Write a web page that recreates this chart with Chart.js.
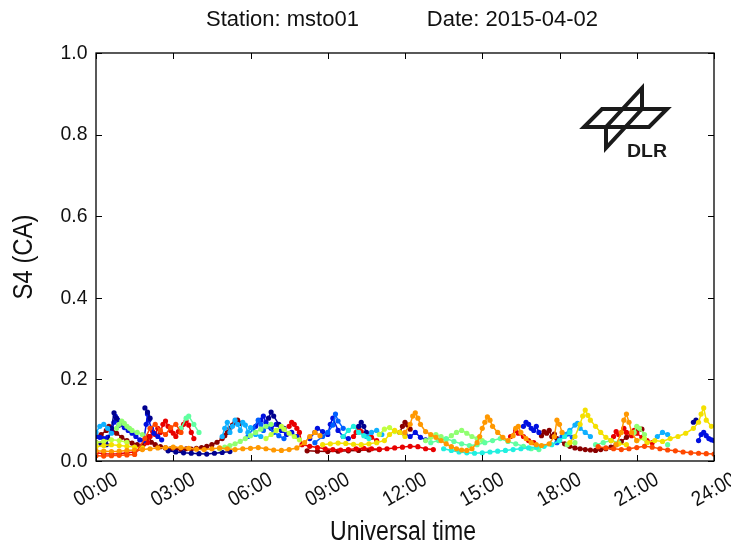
<!DOCTYPE html>
<html>
<head>
<meta charset="utf-8">
<script src="https://cdn.jsdelivr.net/npm/chart.js@4.4.1/dist/chart.umd.min.js"></script>
<style>
  html, body { margin: 0; padding: 0; background: #fff; }
  #wrap { width: 731px; height: 547px; }
</style>
</head>
<body>
<div id="wrap"><canvas id="s4-chart-canvas" width="731" height="547"></canvas></div>
<script>
// axis ticks
const xTickHours = [0, 3, 6, 9, 12, 15, 18, 21, 24];
const xTickLabels = ['00:00', '03:00', '06:00', '09:00', '12:00', '15:00', '18:00', '21:00', '24:00'];
const yTickValues = [0, 0.2, 0.4, 0.6, 0.8, 1.0];
const yTickLabels = ['0.0', '0.2', '0.4', '0.6', '0.8', '1.0'];

// S4 per satellite pass, [hour, S4]
const satDarkBlue = [[0.0,0.045],[0.2,0.042],[0.4,0.040],[0.6,0.080],[0.7,0.118],[0.8,0.105],[0.9,0.088],
  [1.9,0.130],[2.0,0.120],[2.1,0.105],[2.8,0.025],[3.1,0.022],[3.4,0.020],[3.7,0.019],[4.0,0.018],[4.3,0.017],
  [4.6,0.019],[4.9,0.021],[5.2,0.023],[6.7,0.105],[6.8,0.120],[6.9,0.110],[7.1,0.090],[7.3,0.080],
  [10.2,0.085],[10.3,0.095],[10.4,0.085],[10.5,0.070],[23.2,0.095],[23.3,0.100]];
const satBlue = [[0.0,0.060],[0.15,0.058],[0.3,0.055],[0.45,0.058],[0.6,0.070],[0.7,0.095],[0.75,0.110],[0.85,0.100],
  [0.95,0.090],[1.1,0.082],[1.25,0.075],[1.4,0.068],[1.55,0.060],[1.7,0.052],[1.85,0.050],[1.95,0.090],[2.0,0.115],
  [2.05,0.100],[2.15,0.080],[2.25,0.068],[2.4,0.060],[2.55,0.052],[6.2,0.085],[6.4,0.100],[6.5,0.110],[6.6,0.095],
  [6.8,0.080],[7.0,0.090],[7.2,0.075],[7.4,0.065],[7.6,0.070],[7.8,0.060],[8.3,0.055],[8.5,0.070],[8.6,0.080],
  [8.8,0.072],[9.0,0.065],[9.1,0.090],[9.2,0.105],[9.4,0.075],[9.6,0.060],[9.8,0.055],[12.0,0.065],[12.2,0.060],
  [12.4,0.070],[12.6,0.058],[12.8,0.052],[16.6,0.085],[16.7,0.095],[16.8,0.090],[16.9,0.080],[17.0,0.075],
  [17.1,0.085],[17.2,0.070],[23.4,0.050],[23.5,0.065],[23.6,0.070],[23.7,0.062],[23.8,0.055],[23.9,0.052],[24.0,0.050]];
const satMidBlue = [[5.9,0.060],[6.1,0.080],[6.3,0.100],[6.4,0.090],[6.5,0.075],[6.7,0.085],[6.9,0.070],[7.1,0.062],
  [7.3,0.055],[8.5,0.045],[8.8,0.060],[9.0,0.070],[9.2,0.088],[9.3,0.115],[9.4,0.098],[9.6,0.080],
  [17.9,0.045],[18.0,0.052],[18.1,0.060],[18.3,0.066],[18.5,0.058]];
const satSky = [[0.0,0.070],[0.15,0.085],[0.3,0.090],[0.45,0.080],[0.6,0.068],[4.9,0.060],[5.0,0.080],[5.1,0.095],
  [5.2,0.070],[5.3,0.085],[5.4,0.100],[5.5,0.090],[5.6,0.075],[5.7,0.095],[5.8,0.088],[5.9,0.070],[6.0,0.082],
  [6.2,0.065],[6.4,0.060],[10.5,0.060],[10.7,0.070],[10.9,0.075],[11.1,0.065],[18.2,0.065],[18.4,0.075],
  [18.6,0.088],[18.7,0.092],[18.8,0.080],[19.0,0.070],[19.2,0.060],[21.8,0.060],[22.0,0.070],[22.2,0.065]];
const satCyan = [[9.6,0.060],[9.8,0.075],[10.0,0.085],[10.2,0.070],[10.4,0.062],[10.6,0.055],[13.5,0.030],[13.8,0.026],
  [14.1,0.022],[14.4,0.020],[14.7,0.019],[15.0,0.020],[15.3,0.022],[15.6,0.024],[15.9,0.026],[16.2,0.028],
  [16.5,0.030],[16.8,0.032],[17.1,0.034],[17.4,0.036],[17.7,0.040],[18.0,0.050],[18.2,0.060],[18.4,0.070]];
const satAqua = [[3.3,0.080],[3.5,0.105],[3.6,0.110],[3.8,0.090],[4.0,0.070],[13.0,0.045],[13.3,0.050],[13.6,0.055],
  [13.9,0.048],[14.2,0.042],[14.5,0.038],[14.8,0.040],[15.1,0.045],[15.4,0.050],[15.7,0.055],[16.0,0.048],
  [16.3,0.042],[16.6,0.036],[16.9,0.030],[17.2,0.028],[19.4,0.040],[19.7,0.045],[20.0,0.050],[20.3,0.045],[22.2,0.040]];
const satGreen = [[0.8,0.080],[0.9,0.090],[1.0,0.098],[1.1,0.092],[1.2,0.085],[1.3,0.080],[1.4,0.075],[1.6,0.070],
  [1.8,0.065],[4.8,0.030],[5.0,0.034],[5.2,0.038],[5.4,0.042],[5.6,0.048],[5.8,0.055],[6.0,0.062],[6.2,0.070],
  [6.4,0.078],[6.6,0.085],[6.8,0.090],[12.8,0.050],[13.0,0.058],[13.2,0.065],[13.4,0.060],[13.6,0.052],
  [13.8,0.062],[14.0,0.070],[14.2,0.075],[14.4,0.068],[14.6,0.060],[14.8,0.055],[15.0,0.050],[18.3,0.040],
  [18.6,0.045],[20.9,0.070],[21.0,0.085],[21.1,0.080],[21.3,0.065]];
const satLime = [[0.0,0.045],[0.3,0.048],[0.6,0.052],[0.9,0.050],[1.2,0.046],[6.6,0.055],[6.8,0.065],[7.0,0.075],
  [7.2,0.085],[7.3,0.078],[7.5,0.068],[7.7,0.060],[7.9,0.052],[11.0,0.065],[11.2,0.078],[11.4,0.082],[11.6,0.072],
  [21.0,0.050],[21.3,0.055]];
const satYellow = [[0.0,0.035],[0.3,0.038],[0.6,0.040],[0.9,0.038],[1.2,0.036],[1.5,0.034],[1.8,0.032],
  [8.8,0.040],[9.1,0.042],[9.4,0.044],[9.7,0.043],[10.0,0.041],[10.3,0.040],[10.6,0.042],[10.9,0.045],[11.2,0.050],
  [11.4,0.065],[11.6,0.075],[11.8,0.070],[12.0,0.060],[18.4,0.045],[18.6,0.060],[18.8,0.090],[18.9,0.110],
  [19.0,0.125],[19.1,0.112],[19.2,0.100],[19.4,0.085],[19.6,0.070],[19.8,0.058],[20.0,0.050],[20.3,0.042],
  [20.6,0.040],[21.4,0.045],[21.7,0.050],[22.0,0.048],[22.3,0.055],[22.6,0.060],[22.9,0.068],[23.2,0.080],
  [23.4,0.095],[23.5,0.115],[23.6,0.130],[23.7,0.100],[23.9,0.085]];
const satOrange = [[0.0,0.025],[0.3,0.024],[0.6,0.023],[0.9,0.024],[1.2,0.026],[1.5,0.027],[1.8,0.028],[2.1,0.030],
  [2.4,0.032],[2.7,0.033],[3.0,0.034],[3.3,0.033],[3.6,0.031],[3.9,0.029],[4.2,0.028],[4.5,0.030],[4.8,0.032],
  [5.1,0.030],[5.4,0.028],[5.7,0.030],[6.0,0.031],[6.3,0.033],[6.6,0.030],[6.9,0.027],[7.2,0.026],[7.5,0.028],
  [7.8,0.032],[8.1,0.045],[8.3,0.060],[8.5,0.070],[8.7,0.062],[12.0,0.070],[12.2,0.090],[12.3,0.110],[12.4,0.118],
  [12.5,0.105],[12.6,0.090],[12.8,0.072],[13.0,0.065],[13.2,0.058],[13.4,0.050],[13.6,0.042],[13.8,0.035],
  [14.0,0.030],[14.2,0.027],[14.4,0.026],[14.6,0.030],[14.8,0.045],[14.9,0.060],[15.0,0.080],[15.1,0.095],
  [15.2,0.108],[15.3,0.100],[15.4,0.085],[15.6,0.070],[15.8,0.058],[16.0,0.050],[16.2,0.062],[16.3,0.080],
  [16.4,0.085],[16.5,0.070],[16.7,0.055],[16.9,0.045],[17.1,0.040],[17.3,0.038],[17.6,0.042],[17.8,0.060],
  [17.9,0.100],[18.0,0.090],[18.1,0.070],[20.2,0.040],[20.4,0.070],[20.5,0.100],[20.6,0.115],[20.7,0.095],
  [20.8,0.070],[21.0,0.050]];
const satOrangeRed = [[0.0,0.013],[0.3,0.012],[0.6,0.013],[0.9,0.014],[1.2,0.015],[1.5,0.016],[1.9,0.055],[2.1,0.080],
  [2.3,0.090],[2.5,0.075],[2.7,0.065],[2.9,0.082],[3.1,0.090],[3.3,0.070],[19.5,0.035],[19.8,0.032],[20.1,0.030],
  [20.4,0.028],[20.7,0.030],[21.0,0.033],[21.3,0.036],[21.6,0.034],[21.9,0.030],[22.2,0.027],[22.5,0.025],
  [22.8,0.022],[23.1,0.020],[23.4,0.019],[23.7,0.018],[24.0,0.017]];
const satRed = [[0.0,0.020],[0.3,0.018],[0.6,0.017],[0.9,0.018],[1.2,0.020],[1.5,0.022],[1.8,0.030],[2.0,0.045],
  [2.1,0.060],[2.2,0.072],[2.3,0.065],[2.4,0.080],[2.5,0.070],[2.6,0.090],[2.7,0.098],[2.8,0.085],[2.9,0.075],
  [3.0,0.068],[3.1,0.060],[3.2,0.072],[3.3,0.080],[3.4,0.090],[3.5,0.098],[3.6,0.088],[3.7,0.070],[3.8,0.055],
  [7.5,0.085],[7.6,0.095],[7.7,0.090],[7.8,0.080],[7.9,0.070],[8.0,0.040],[8.3,0.036],[8.6,0.033],[8.9,0.030],
  [9.2,0.028],[9.5,0.027],[9.8,0.028],[10.1,0.030],[10.4,0.031],[10.7,0.030],[11.0,0.029],[11.3,0.030],
  [11.6,0.032],[11.9,0.034],[12.2,0.036],[12.5,0.035],[12.8,0.030],[13.1,0.028],[16.1,0.060],[16.3,0.075],
  [16.4,0.068],[16.6,0.060],[16.8,0.050],[17.0,0.045],[20.0,0.050],[20.1,0.060],[20.2,0.072],[20.3,0.065],
  [20.5,0.080],[20.6,0.070],[20.8,0.062],[20.9,0.075],[21.0,0.068],[21.2,0.058],[21.4,0.050],[21.6,0.045]];
const satRedPeak = [[10.0,0.060],[10.1,0.070],[10.2,0.080],[10.3,0.072],[10.5,0.065],[10.7,0.058],[10.9,0.050]];
const satMaroon = [[0.0,0.060],[0.2,0.065],[0.4,0.075],[0.5,0.085],[0.6,0.080],[0.8,0.068],[1.0,0.058],[1.2,0.050],
  [1.4,0.044],[1.6,0.040],[1.8,0.038],[1.95,0.050],[2.05,0.060],[2.15,0.046],[2.3,0.040],[2.5,0.035],[2.7,0.032],
  [2.9,0.030],[3.1,0.029],[3.3,0.028],[3.5,0.030],[3.7,0.029],[3.9,0.031],[4.1,0.033],[4.3,0.036],[4.5,0.040],
  [4.7,0.046],[4.9,0.055],[5.0,0.062],[5.1,0.070],[5.2,0.080],[5.3,0.088],[5.4,0.095],[5.5,0.100],[5.6,0.092],
  [8.2,0.025],[8.6,0.024],[9.0,0.023],[9.4,0.024],[9.8,0.025],[10.2,0.026],[10.6,0.027],[11.0,0.028],
  [11.8,0.070],[11.9,0.085],[12.0,0.095],[12.1,0.088],[12.2,0.078],[17.3,0.062],[17.4,0.072],[17.5,0.068],
  [17.6,0.075],[17.7,0.060],[17.8,0.066],[17.9,0.055],[18.0,0.050],[18.2,0.042],[18.4,0.036],[18.6,0.032],
  [18.8,0.030],[19.0,0.028],[19.2,0.027],[19.4,0.026],[19.6,0.028],[19.8,0.030],[20.0,0.034],[20.2,0.040],
  [20.4,0.048],[20.6,0.058],[20.8,0.066],[21.0,0.072],[21.2,0.078]];

// drawing order back to front, with jet colours
const passes = [satOrangeRed, satOrange, satYellow, satCyan, satAqua, satLime, satGreen, satSky, satMidBlue, satDarkBlue, satBlue, satRed, satRedPeak, satMaroon];
const passColors = ['#ff4800', '#ff9800', '#f4e000', '#20f0e0', '#60ffa0', '#c0ff40', '#90ff70', '#10b0ff', '#0060ff', '#00008f', '#0010e0', '#e80000', '#e80000', '#8a0000'];

const FONT = '"Liberation Sans", Arial, sans-serif';

// break a pass into runs so the thin joining line does not cross long gaps
const toPoints = p => {
    const out = [];
    p.forEach(([h, v], i) => {
        if (i > 0 && h - p[i - 1][0] > 0.45) out.push({ x: (h + p[i - 1][0]) / 2, y: null });
        out.push({ x: h, y: v });
    });
    return out;
};

// draw text squeezed horizontally to look like the narrow face of the original
const fitText = (ctx, text, x, y, width, size, rot, weight, align) => {
    ctx.save();
    ctx.font = (weight || '') + ' ' + size + 'px ' + FONT;
    const m = ctx.measureText(text).width;
    ctx.translate(x, y);
    if (rot) ctx.rotate(rot);
    ctx.scale(width ? width / m : 1, 1);
    ctx.textAlign = align || 'center';
    ctx.textBaseline = 'middle';
    ctx.fillText(text, 0, 0);
    ctx.restore();
};

const frameAndText = {
    id: 'frameAndText',
    afterDraw(chart) {
        const ctx = chart.ctx;
        const a = chart.chartArea;
        const xs = chart.scales.x, ys = chart.scales.y;
        ctx.save();
        ctx.strokeStyle = '#000';
        ctx.lineWidth = 1.3;
        ctx.strokeRect(a.left, a.top, a.right - a.left, a.bottom - a.top);
        // inward ticks on all four sides
        ctx.lineWidth = 1;
        ctx.beginPath();
        for (const h of xTickHours) {
            const px = Math.round(xs.getPixelForValue(h)) + 0.5;
            ctx.moveTo(px, a.bottom); ctx.lineTo(px, a.bottom - 6);
            ctx.moveTo(px, a.top); ctx.lineTo(px, a.top + 6);
        }
        for (const v of yTickValues) {
            const py = Math.round(ys.getPixelForValue(v)) + 0.5;
            ctx.moveTo(a.left, py); ctx.lineTo(a.left + 6, py);
            ctx.moveTo(a.right, py); ctx.lineTo(a.right - 6, py);
        }
        ctx.stroke();

        ctx.fillStyle = '#111';
        xTickHours.forEach((h, i) => {
            fitText(ctx, xTickLabels[i], xs.getPixelForValue(h), a.bottom + 29, 47, 21, -Math.PI / 6);
        });
        yTickValues.forEach((v, i) => {
            fitText(ctx, yTickLabels[i], a.left - 22, ys.getPixelForValue(v), 27, 21);
        });
        fitText(ctx, 'Station: msto01', 206, 20, 0, 22, 0, '', 'left');
        fitText(ctx, 'Date: 2015-04-02', 598, 20, 0, 22, 0, '', 'right');
        fitText(ctx, 'Universal time', 403, 533, 146, 27);
        fitText(ctx, 'S4 (CA)', 25, 257, 85, 27, -Math.PI / 2);

        // DLR logo
        ctx.strokeStyle = '#1a1a1a';
        ctx.lineWidth = 4;
        ctx.beginPath();
        ctx.moveTo(602, 109); ctx.lineTo(667, 109); ctx.lineTo(649, 127); ctx.lineTo(584, 127); ctx.closePath();
        ctx.stroke();
        ctx.beginPath();
        ctx.moveTo(642, 88); ctx.lineTo(642, 109); ctx.lineTo(606, 148); ctx.lineTo(606, 127); ctx.closePath();
        ctx.stroke();
        ctx.fillStyle = '#1a1a1a';
        fitText(ctx, 'DLR', 647, 152, 40, 18, 0, 'bold');
        ctx.restore();
    }
};

new Chart(document.getElementById('s4-chart-canvas'), {
    type: 'scatter',
    data: {
        datasets: passes.map((p, i) => ({
            data: toPoints(p),
            showLine: true,
            spanGaps: false,
            borderColor: passColors[i],
            borderWidth: 1.5,
            backgroundColor: passColors[i],
            pointBorderWidth: 0,
            pointRadius: 2.6,
            pointHoverRadius: 2.6
        }))
    },
    options: {
        responsive: false,
        animation: false,
        events: [],
        layout: { padding: { top: 53, right: 17, left: 0, bottom: 0 } },
        plugins: { legend: { display: false }, tooltip: { enabled: false } },
        scales: {
            x: {
                type: 'linear', min: 0, max: 24,
                ticks: { display: false, stepSize: 3 },
                grid: { display: false },
                border: { display: false },
                afterFit: s => { s.height = 86; }
            },
            y: {
                min: 0, max: 1,
                ticks: { display: false, stepSize: 0.2 },
                grid: { display: false },
                border: { display: false },
                afterFit: s => { s.width = 96; }
            }
        }
    },
    plugins: [frameAndText]
});
</script>
</body>
</html>
